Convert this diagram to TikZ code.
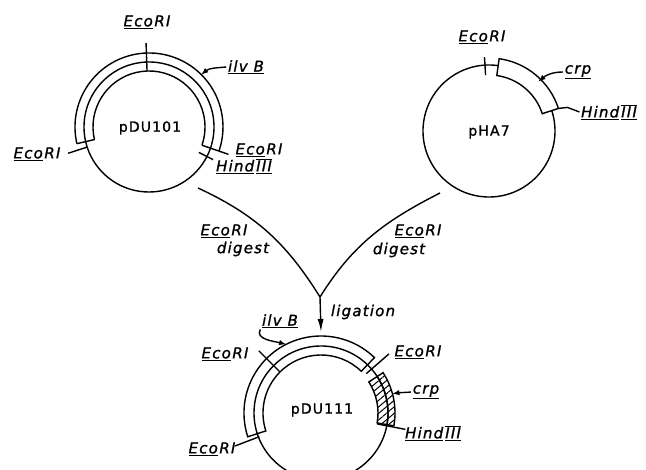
\documentclass[tikz,border=0pt]{standalone}
\usepackage{fontspec}
\newfontfamily\labfont[LetterSpace=8,FakeBold=1.2]{DejaVu Sans}
\usetikzlibrary{arrows.meta,patterns.meta}

\newcommand{\eco}{\underline{Eco}\kern1.5pt RI}
\newcommand{\hind}{\underline{Hind}\kern2pt$\overline{\underline{\hbox{III}}}$}

\begin{document}
\begin{tikzpicture}[x=1pt,y=1pt,line width=1.4pt,
  lab/.style={font=\labfont\itshape\fontsize{15}{16}\selectfont,inner sep=1pt},
  pname/.style={font=\labfont\fontsize{14}{15}\selectfont,inner sep=1pt}]

\useasboundingbox (0,0) rectangle (646,470);
\clip (0,0) rectangle (646,470);

\begin{scope}[xshift=149pt,yshift=343pt]
  \draw (0,0) circle (65);
  \draw (193:56) arc (193:-19:56);
  \draw (193:74) arc (193:-19:74);
  \draw (193:56) -- (193:74);
  \draw (-19:56) -- (-19:84);
  \draw (198:65) -- (198:85);
  \draw (92:56) -- (92:84);
  \draw (-27:56) -- (-27:72);
  \coordinate (ilvtipA) at (45:74);
  \node[pname] (nA) at (1,-1) {pDU101};
\end{scope}

\begin{scope}[xshift=489pt,yshift=339pt]
  \draw (82:66) arc (82:378:66);
  \draw (18:56) arc (18:82:56) -- (82:73) arc (82:18:73) -- cycle;
  \draw (93.5:56) -- (93.5:74);
  \coordinate (crptipB) at (45:70);
  \coordinate (hindB) at (18:73);
  \node[pname] (nB) at (0,-1) {pHA7};
\end{scope}

\begin{scope}[xshift=321pt,yshift=57pt]
  \draw (0,0) circle (67);
  \draw (46:58) arc (46:198:58) -- (198:77) arc (198:46:77) -- cycle;
  \draw[pattern={Lines[angle=40,distance=5pt,line width=1pt]}]
    (-10:57) arc (-10:33:57) -- (33:74) arc (33:-10:74) -- cycle;
  \draw (-10:67) arc (-10:33:67);
  \draw (135:58) -- (135:88);
  \draw (41:60) -- (41:90);
  \draw (-11:57) -- (-11:86);
  \draw (201:66) -- (201:92);
  \coordinate (ilvtipC) at (117:77);
  \coordinate (crptipC) at (15:74);
  \coordinate (topC) at (90:81);
  \node[pname] (nC) at (1,3) {pDU111};
\end{scope}

\node[lab] (eAt) at (147,448) {\eco};
\node[lab] (eAl) at (37,316) {\eco};
\node[lab] (eAr) at (259,320) {\eco};
\node[lab] (hA) at (244,304) {\hind};
\node[lab] (ilvA) at (246,403) {\underline{ilv\ B}};
\draw[->,>=latex] (ilvA.west) to[out=185,in=40] (ilvtipA);

\node[lab] (eB) at (482,433) {\eco};
\node[lab] (crpB) at (578,398) {\underline{crp}};
\node[lab] (hB) at (609,358) {\hind};
\draw[->,>=latex] (crpB.west) to[out=180,in=40] (crptipB);
\draw (hindB) -- ++(9,1) -- (hB.west);

\coordinate (digA) at (198,282);
\coordinate (digB) at (440,277);
\coordinate (join) at (320,173);
\draw (digA) to[out=-25,in=122] (join);
\draw (digB) to[out=207,in=58] (join);
\node[lab] (eDa) at (224,239) {\eco};
\node[lab] (dA) at (243,221) {digest};
\node[lab] (eDb) at (418,239) {\eco};
\node[lab] (dB) at (399,220) {digest};
\draw[-{Latex[length=13pt,width=6pt]}] (join) -- (topC);
\node[lab] (lig) at (363,158) {ligation};

\node[lab] (eCl) at (225,116) {\eco};
\node[lab] (eCr) at (418,118) {\eco};
\node[lab] (crpC) at (426,78) {\underline{crp}};
\node[lab] (hC) at (433,37) {\hind};
\node[lab] (eCb) at (212,21) {\eco};
\node[lab] (ilvC) at (280,149) {\underline{ilv\ B}};
\draw[->,>=latex] (ilvC.south west) to[out=240,in=165] (ilvtipC);
\draw[->,>=latex] (crpC.west) to[out=185,in=10] (crptipC);

\end{tikzpicture}
\end{document}
